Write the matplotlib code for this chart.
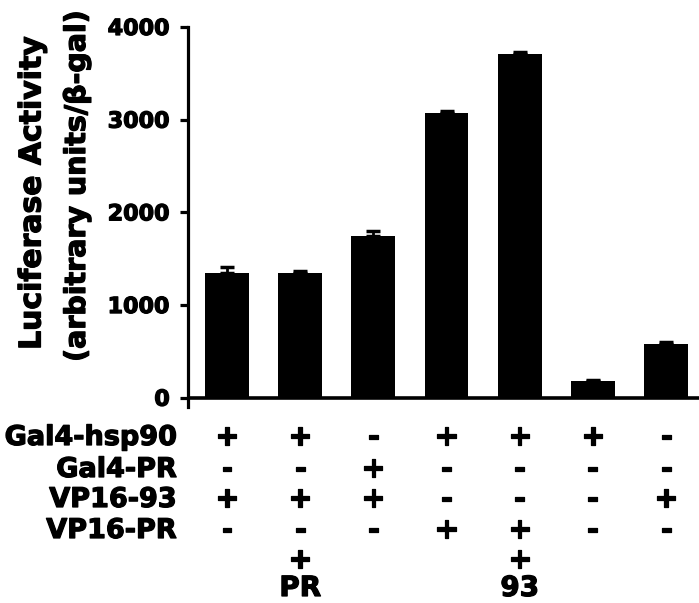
import matplotlib
matplotlib.use("Agg")
import matplotlib.pyplot as plt
import matplotlib.transforms as mtransforms
import matplotlib.patheffects as pe
import numpy as np

# ---- data ----
values = [1345, 1345, 1750, 3075, 3710, 178, 585]
errors = [70, 20, 50, 18, 16, 15, 15]
row_labels = ["Gal4-hsp90", "Gal4-PR", "VP16-93", "VP16-PR"]
row_signs = [
    ["+", "+", "-", "+", "+", "+", "-"],
    ["-", "-", "+", "-", "-", "-", "-"],
    ["+", "+", "+", "-", "-", "-", "+"],
    ["-", "-", "-", "+", "+", "-", "-"],
]
extra_signs = ["", "+", "", "", "+", "", ""]
extra_labels = ["", "PR", "", "", "93", "", ""]
yticks = [0, 1000, 2000, 3000, 4000]
ylabel1 = "Luciferase Activity"
ylabel2 = "(arbitrary units/β-gal)"

plt.rcParams["font.family"] = ["DejaVu Sans"]
plt.rcParams["font.weight"] = "bold"
heavy = [pe.withStroke(linewidth=0.9, foreground="black")]

W, H = 699, 603
fig = plt.figure(figsize=(W / 100, H / 100), dpi=100)
ax = fig.add_axes([188 / W, 1 - 407 / H, 1 - 188 / W, (407 - 27) / H])

x = np.arange(len(values))
ax.bar(x, values, width=0.6, color="black",
       yerr=[np.zeros(len(values)), errors],
       error_kw=dict(ecolor="black", elinewidth=2, capsize=5, capthick=2.5))
ax.axhline(0, color="black", lw=2.6, zorder=3)
ax.set_xlim(-0.533, 6.45)
ax.set_ylim(-100, 4000)
ax.set_yticks(yticks)
ax.set_yticklabels([str(v) for v in yticks], fontsize=16, fontweight="bold")
for t in ax.get_yticklabels():
    t.set_path_effects(heavy)
ax.set_xticks([])
for s in ["top", "right", "bottom"]:
    ax.spines[s].set_visible(False)
ax.spines["left"].set_linewidth(2.3)
ax.tick_params(axis="y", direction="out", length=6, width=2.3, pad=7)

# y labels
fig.text(32 / W, 1 - 193 / H, ylabel1, rotation=90, ha="center", va="center",
         fontsize=21.5, fontweight="bold", path_effects=heavy)
fig.text(77 / W, 1 - 186 / H, ylabel2, rotation=90, ha="center", va="center",
         fontsize=20.5, fontweight="bold", path_effects=heavy)

# table below
trans = mtransforms.blended_transform_factory(ax.transData, fig.transFigure)
row_baselines = [445, 477, 507, 538]
fs_lab = 19.5
fs_sign = 21
for lab, signs, yb in zip(row_labels, row_signs, row_baselines):
    fig.text(177 / W, 1 - yb / H, lab, ha="right", va="baseline",
             fontsize=fs_lab, fontweight="bold", path_effects=heavy)
    for xi, sg in zip(x, signs):
        ax.text(xi, 1 - yb / H, sg, transform=trans, ha="center", va="baseline",
                fontsize=fs_sign, fontweight="bold", clip_on=False,
                path_effects=heavy)
for xi, sg in zip(x, extra_signs):
    if sg:
        ax.text(xi, 1 - 568 / H, sg, transform=trans, ha="center", va="baseline",
                fontsize=fs_sign, fontweight="bold", clip_on=False,
                path_effects=heavy)
for xi, lb in zip(x, extra_labels):
    if lb:
        ax.text(xi, 1 - 596 / H, lb, transform=trans, ha="center", va="baseline",
                fontsize=20, fontweight="bold", clip_on=False,
                path_effects=heavy)

fig.savefig("out.png", dpi=100)
